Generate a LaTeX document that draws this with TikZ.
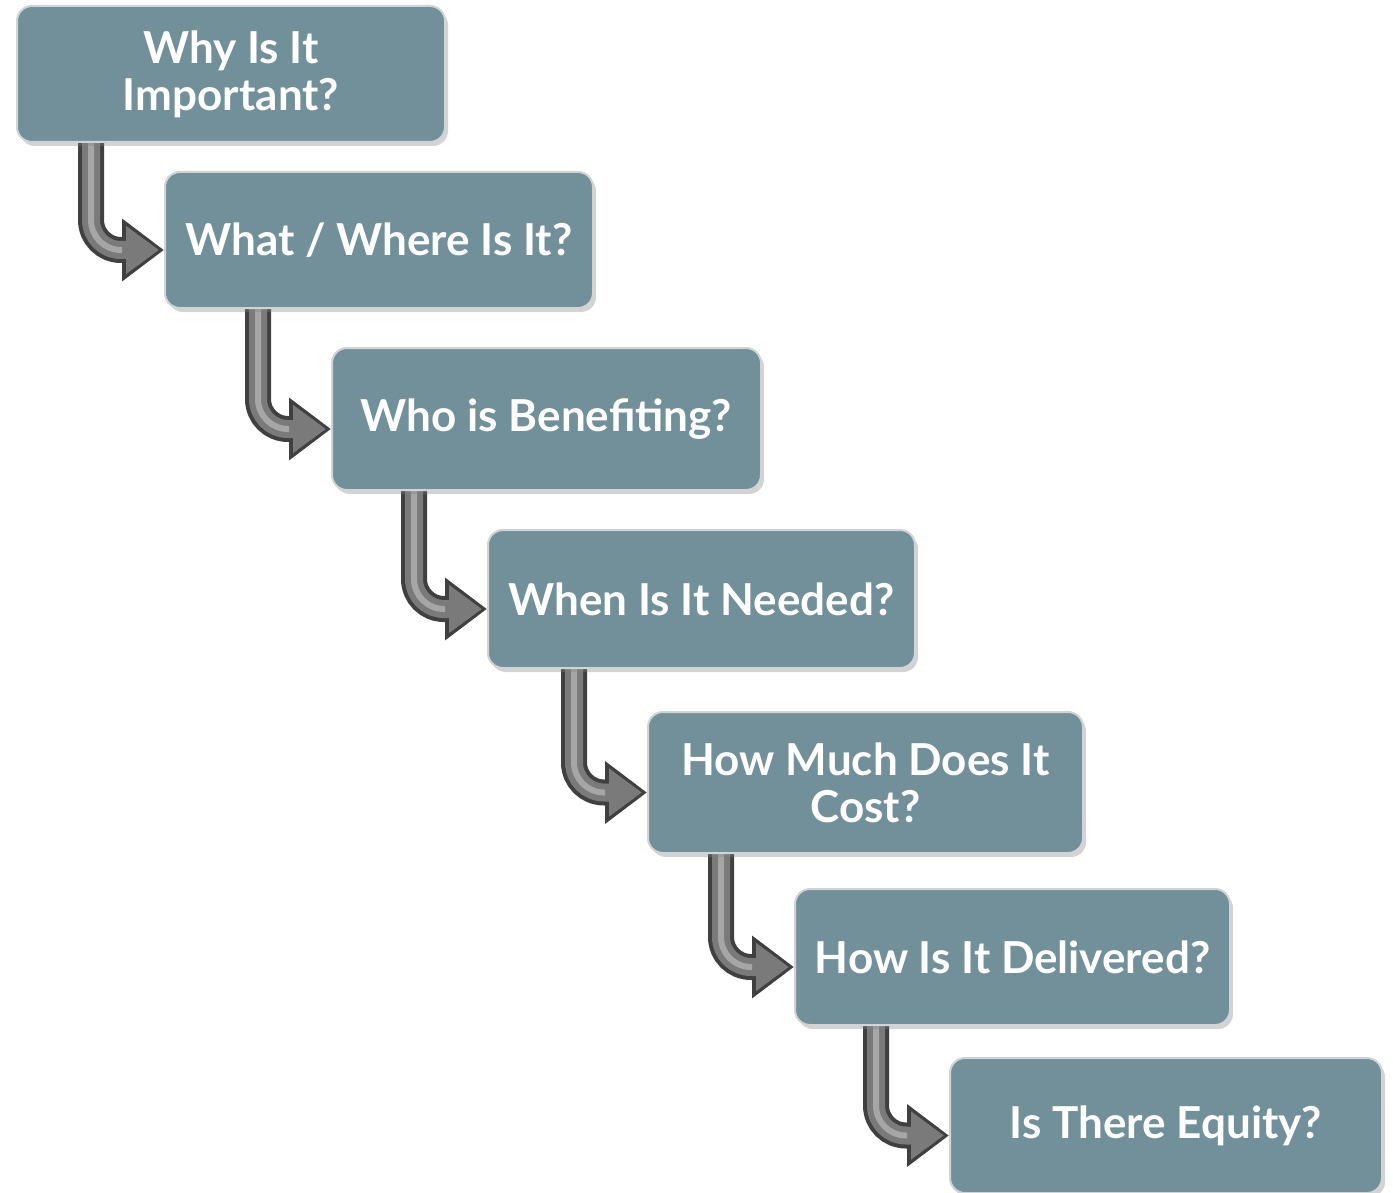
\documentclass[tikz,border=0pt]{standalone}
\usepackage{fontspec}
\setmainfont{Lato}
\usetikzlibrary{shapes, arrows.meta, positioning, shadows, backgrounds}
\definecolor{slate}{RGB}{114,144,153}
\definecolor{rim}{RGB}{208,212,214}

\begin{document}
\begin{tikzpicture}[
  x=1pt, y=1pt,
  box/.style={rectangle, rounded corners=15pt, fill=slate, draw=rim, line width=2pt,
    text=white, font=\fontsize{44}{47}\selectfont\bfseries, align=center,
    minimum width=428pt, minimum height=136pt, inner sep=0pt,
    drop shadow={shadow xshift=3pt, shadow yshift=-4pt, opacity=.35}},
  pipe/.style={line width=26pt, draw=black!75, rounded corners=30pt,
    -{Triangle[length=42pt, width=60pt]},
    postaction={draw=black!52, line width=18pt, shorten >=5pt, -{Triangle[length=33pt, width=46pt]}},
    postaction={draw=black!35, line width=6pt, shorten >=42pt, -}}]

  \useasboundingbox (0,0) rectangle (1393,-1193);

  \node[box] (b1) at (231,-74) {Why Is It\\Important?};
  \node[box] (b2) at (379,-240) {What / Where Is It?};
  \node[box, minimum width=429pt, minimum height=142pt] (b3) at (546.5,-419) {Who is Benefiting?};
  \node[box, minimum width=427pt, minimum height=138pt] (b4) at (701.5,-599) {When Is It Needed?};
  \node[box, minimum width=435pt, minimum height=141pt] (b5) at (865.5,-782.5) {How Much Does It\\Cost?};
  \node[box, minimum width=435pt] (b6) at (1012.5,-957) {How Is It Delivered?};
  \node[box, minimum width=432pt, minimum height=135pt] (b7) at (1166,-1125.5) {Is There Equity?};

  \begin{scope}[on background layer]
  \foreach \a/\b in {b1/b2, b2/b3, b3/b4, b4/b5, b5/b6, b6/b7}
    \draw[pipe] (\a.south -| \b.west) ++(-73pt,0) |- ([yshift=-10pt]\b.west);
  \end{scope}
\end{tikzpicture}
\end{document}
